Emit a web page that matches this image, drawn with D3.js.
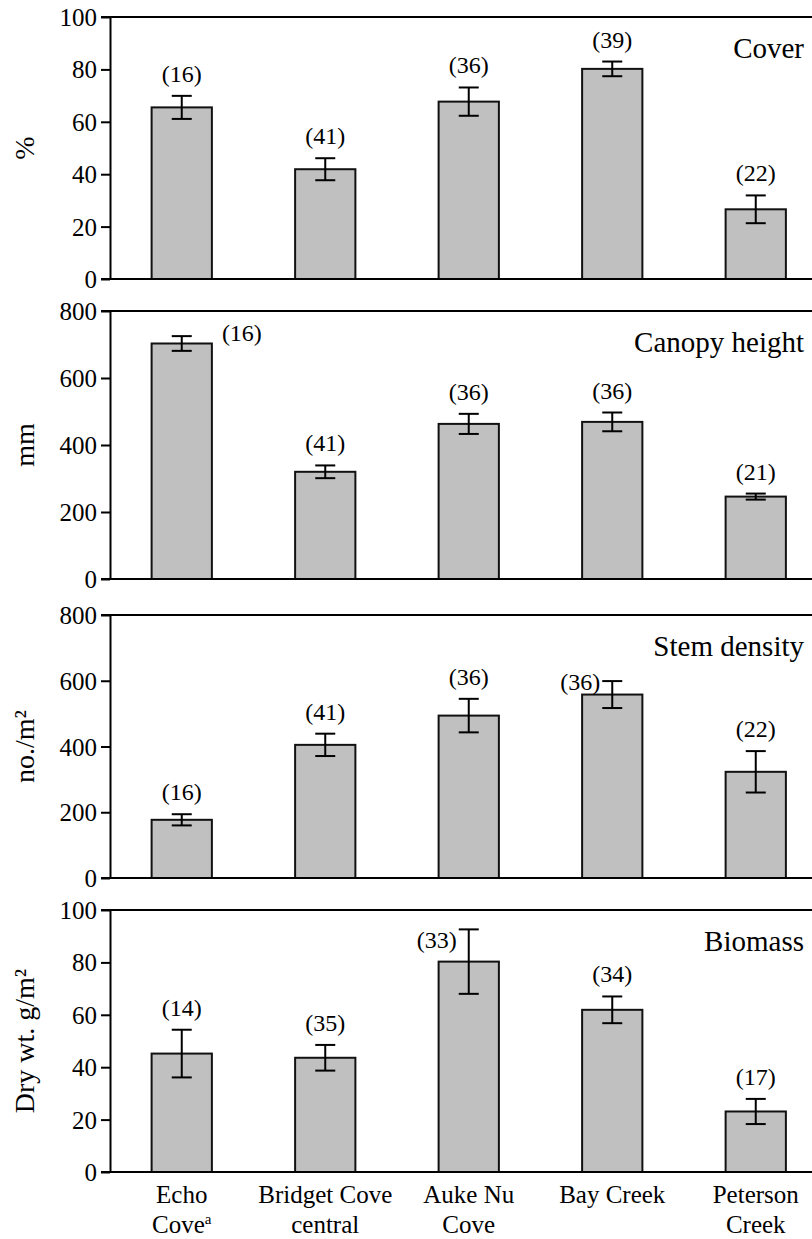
<!DOCTYPE html>
<html>
<head>
<meta charset="utf-8">
<script src="https://cdn.jsdelivr.net/npm/d3@7"></script>
<style>
  body { margin: 0; background: #fff; }
  svg text { font-family: "Liberation Serif", "Times New Roman", serif; fill: #000; }
</style>
</head>
<body>
<svg id="chart"></svg>
<script>
/* site data: mean, SE and sample size (n) per site */

var sites = ["Echo Cove", "Bridget Cove central", "Auke Nu Cove", "Bay Creek", "Peterson Creek"];
var siteLines = [["Echo", "Cove"], ["Bridget Cove", "central"], ["Auke Nu", "Cove"], ["Bay Creek"], ["Peterson", "Creek"]];

var coverMean = [65.5, 41.9, 67.7, 80.2, 26.6];
var coverSE = [4.4, 4.2, 5.4, 2.8, 5.3];
var coverN = [16, 41, 36, 39, 22];

var heightMean = [703, 320, 463, 469, 246];
var heightSE = [22, 19, 30, 28, 9];
var heightN = [16, 41, 36, 36, 21];

var densityMean = [177, 405, 494, 558, 323];
var densitySE = [17, 34, 51, 41, 63];
var densityN = [16, 41, 36, 36, 22];

var biomassMean = [45.2, 43.6, 80.3, 61.9, 23.1];
var biomassSE = [9.1, 4.9, 12.3, 5.1, 4.8];
var biomassN = [14, 35, 33, 34, 17];

var ticksPct = [0, 20, 40, 60, 80, 100];
var ticks800 = [0, 200, 400, 600, 800];

var W = 812, H = 1239;
var axisX = 110;

var svg = d3.select("#chart")
  .attr("width", W)
  .attr("height", H);

var x = d3.scaleBand()
  .domain(sites)
  .range([axisX, axisX + 5 * 143.5])
  .paddingInner(0.58)
  .paddingOuter(0.29);

var panels = [
  { title: "Cover", yLabel: "%", max: 100, ticks: ticksPct, top: 17, bottom: 279,
    mean: coverMean, se: coverSE, n: coverN, place: {} },
  { title: "Canopy height", yLabel: "mm", max: 800, ticks: ticks800, top: 311, bottom: 579,
    mean: heightMean, se: heightSE, n: heightN, place: { 0: "right" } },
  { title: "Stem density", yLabel: "no./m²", max: 800, ticks: ticks800, top: 615, bottom: 878,
    mean: densityMean, se: densitySE, n: densityN, place: { 3: "left" } },
  { title: "Biomass", yLabel: "Dry wt. g/m²", max: 100, ticks: ticksPct, top: 910, bottom: 1172,
    mean: biomassMean, se: biomassSE, n: biomassN, place: { 2: "left" } }
];

panels.forEach(function (p) {
  var y = d3.scaleLinear()
    .domain([0, p.max])
    .range([p.bottom, p.top]);

  var g = svg.append("g");

  var data = sites.map(function (s, i) {
    return { site: s, i: i, mean: p.mean[i], se: p.se[i], n: p.n[i] };
  });

  // bars
  g.selectAll("rect.bar")
    .data(data)
    .enter()
    .append("rect")
    .attr("class", "bar")
    .attr("x", function (d) { return x(d.site); })
    .attr("y", function (d) { return y(d.mean); })
    .attr("width", x.bandwidth())
    .attr("height", function (d) { return y(0) - y(d.mean); })
    .attr("fill", "#c0c0c0")
    .attr("stroke", "#111")
    .attr("stroke-width", 2);

  // error bars
  var cap = 10;
  var eb = g.selectAll("g.err")
    .data(data)
    .enter()
    .append("g")
    .attr("class", "err")
    .attr("stroke", "#000")
    .attr("stroke-width", 2);
  eb.append("line")
    .attr("x1", function (d) { return x(d.site) + x.bandwidth() / 2; })
    .attr("x2", function (d) { return x(d.site) + x.bandwidth() / 2; })
    .attr("y1", function (d) { return y(d.mean + d.se); })
    .attr("y2", function (d) { return y(d.mean - d.se); });
  [1, -1].forEach(function (sgn) {
    eb.append("line")
      .attr("x1", function (d) { return x(d.site) + x.bandwidth() / 2 - cap; })
      .attr("x2", function (d) { return x(d.site) + x.bandwidth() / 2 + cap; })
      .attr("y1", function (d) { return y(d.mean + sgn * d.se); })
      .attr("y2", function (d) { return y(d.mean + sgn * d.se); });
  });

  // sample size labels
  g.selectAll("text.n")
    .data(data)
    .enter()
    .append("text")
    .attr("class", "n")
    .style("font-size", "24px")
    .attr("text-anchor", function (d) {
      var pl = p.place[d.i];
      return pl === "right" ? "start" : pl === "left" ? "end" : "middle";
    })
    .attr("x", function (d) {
      var cx = x(d.site) + x.bandwidth() / 2;
      var pl = p.place[d.i];
      if (pl === "right") return x(d.site) + x.bandwidth() + 10;
      if (pl === "left") return cx - cap - 2;
      return cx;
    })
    .attr("y", function (d) {
      var pl = p.place[d.i];
      var errTop = y(d.mean + d.se);
      if (pl === "right") return errTop + 5;
      if (pl === "left") return (errTop + y(d.mean)) / 2 + 2;
      return errTop - 14;
    })
    .text(function (d) { return "(" + d.n + ")"; });

  // y axis
  var ax = g.append("g")
    .attr("transform", "translate(" + axisX + ",0)")
    .call(d3.axisLeft(y).tickValues(p.ticks).tickSize(9).tickSizeOuter(0).tickPadding(4));
  ax.select(".domain").attr("stroke", "#000").attr("stroke-width", 2);
  ax.selectAll(".tick line").attr("stroke", "#000").attr("stroke-width", 2);
  ax.selectAll(".tick text")
    .style("font-family", "'Liberation Serif', serif")
    .style("font-size", "25px")
    .attr("dy", "0.34em")
    .attr("fill", "#000");

  // frame lines top and bottom
  g.append("line")
    .attr("x1", axisX - 9).attr("x2", W)
    .attr("y1", y(p.max)).attr("y2", y(p.max))
    .attr("stroke", "#000").attr("stroke-width", 2);
  g.append("line")
    .attr("x1", axisX - 9).attr("x2", W)
    .attr("y1", y(0)).attr("y2", y(0))
    .attr("stroke", "#000").attr("stroke-width", 2);

  // panel title
  g.append("text")
    .attr("x", 804)
    .attr("y", p.top + 41)
    .attr("text-anchor", "end")
    .style("font-size", "29px")
    .text(p.title);

  // y label
  g.append("text")
    .attr("transform", "translate(" + 34 + "," + ((p.top + p.bottom) / 2) + ") rotate(-90)")
    .attr("text-anchor", "middle")
    .style("font-size", "28px")
    .text(p.yLabel);
});

// site labels under the last panel
var last = panels[panels.length - 1];
var xl = svg.append("g")
  .selectAll("text.site")
  .data(siteLines)
  .enter()
  .append("text")
  .attr("class", "site")
  .attr("text-anchor", "middle")
  .style("font-size", "25px")
  .attr("x", function (d, i) { return x(sites[i]) + x.bandwidth() / 2; })
  .attr("y", last.bottom + 31);

xl.each(function (lines, i) {
  var t = d3.select(this);
  lines.forEach(function (ln, k) {
    t.append("tspan")
      .attr("x", x(sites[i]) + x.bandwidth() / 2)
      .attr("dy", k === 0 ? 0 : 30)
      .text(ln);
    if (i === 0 && k === 1) {
      t.append("tspan")
        .style("font-size", "15px")
        .attr("dy", -9)
        .text("a");
    }
  });
});
</script>
</body>
</html>
